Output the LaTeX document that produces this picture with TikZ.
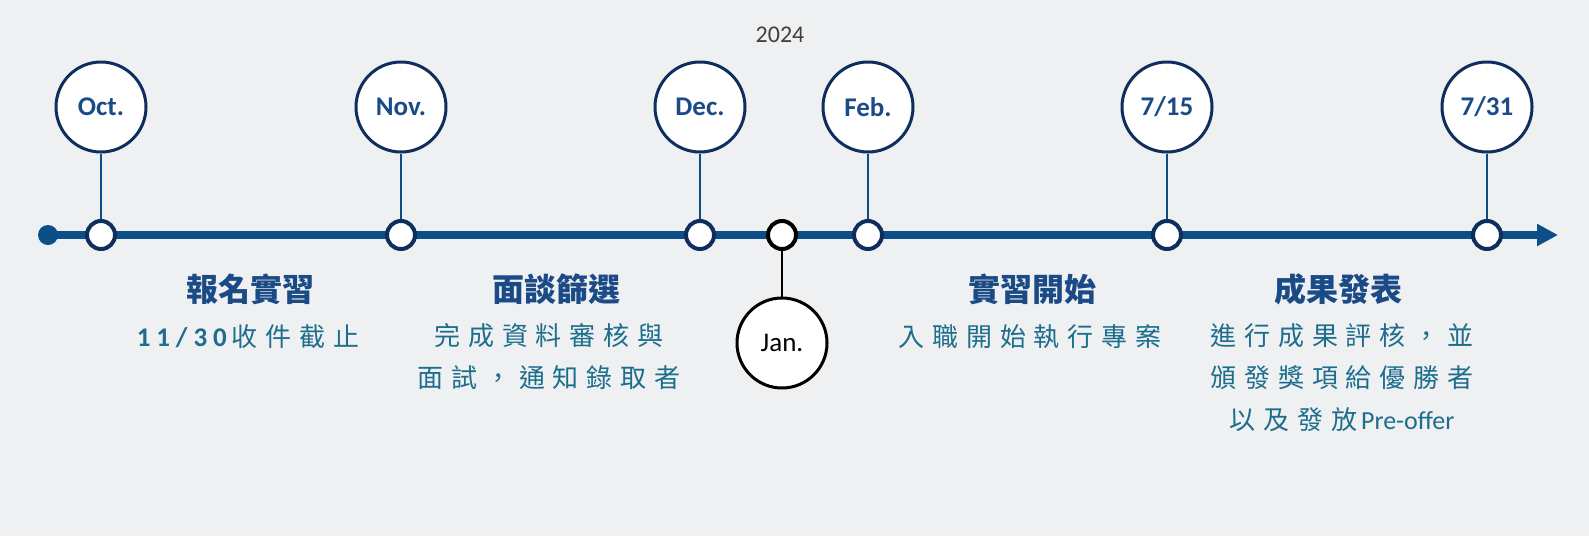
\documentclass[tikz,border=0pt]{standalone}
\usepackage{fontspec}
\usetikzlibrary{arrows.meta}
\setmainfont{Carlito}
\newfontfamily\cjk{Noto Sans CJK TC}
\newfontfamily\cjkwide{Noto Sans CJK TC}[LetterSpace=30]
\newfontfamily\latwide{Carlito}[LetterSpace=22]

\definecolor{bgc}{HTML}{EFF0F2}
\definecolor{axis}{HTML}{0C4E87}
\definecolor{ring}{HTML}{0E2F5E}
\definecolor{head}{HTML}{1A4B86}
\definecolor{body}{HTML}{1C6E8C}
\definecolor{yeartx}{HTML}{404040}

\tikzset{
  month/.style={circle, draw=ring, line width=3pt, fill=white, minimum size=90pt,
    inner sep=0pt, text=head, font=\fontsize{27}{30}\selectfont\bfseries},
  jan/.style={month, draw=black, text=black, font=\fontsize{27}{30}\selectfont},
  tick/.style={circle, draw=ring, line width=4pt, fill=white, minimum size=28pt, inner sep=0pt},
  jantick/.style={tick, draw=black},
  stem/.style={draw=axis, line width=1.3pt},
  title/.style={text=head, font=\fontsize{32}{36}\selectfont\cjk\bfseries},
  desc/.style={text=body, align=center, font=\fontsize{26}{42}\selectfont\cjkwide}
}

\begin{document}
\begin{tikzpicture}[x=1pt,y=-1pt]
  \fill[bgc] (0,0) rectangle (1589,536);
  \useasboundingbox (0,0) rectangle (1589,536);

  \node[text=yeartx, font=\fontsize{24}{28}\selectfont] (year) at (780,35) {2024};

  % axis
  \node[circle, fill=axis, minimum size=20pt, inner sep=0pt] (start) at (48,235) {};
  \coordinate (end) at (1558,235);
  \draw[axis, line width=8pt, -{Triangle[length=21pt,width=21pt]}] (start.center) -- (end);

  % ticks on the axis
  \node[tick] (toct) at (101,235) {};
  \node[tick] (tnov) at (401,235) {};
  \node[tick] (tdec) at (700,235) {};
  \node[jantick] (tjan) at (782,235) {};
  \node[tick] (tfeb) at (868,235) {};
  \node[tick] (tjul15) at (1167,235) {};
  \node[tick] (tjul31) at (1487,235) {};

  % month circles
  \node[month] (oct) at (101,107) {Oct.};
  \node[month] (nov) at (401,107) {Nov.};
  \node[month] (dec) at (700,107) {Dec.};
  \node[jan] (jan) at (782,343) {Jan.};
  \node[month] (feb) at (868,107) {Feb.};
  \node[month] (jul15) at (1167,107) {7/15};
  \node[month] (jul31) at (1487,107) {7/31};

  % stems
  \draw[stem] (oct) -- (toct);
  \draw[stem] (nov) -- (tnov);
  \draw[stem] (dec) -- (tdec);
  \draw[stem] (feb) -- (tfeb);
  \draw[stem] (jul15) -- (tjul15);
  \draw[stem] (jul31) -- (tjul31);
  \draw[black, line width=1.3pt] (jan) -- (tjan);

  % phase titles
  \node[title] (h1) at (250,289) {報名實習};
  \node[title] (h2) at (556,289) {面談篩選};
  \node[title] (h3) at (1032,289) {實習開始};
  \node[title] (h4) at (1338,289) {成果發表};

  % phase descriptions
  \node[desc] (d1) at (248,337) {{\latwide\bfseries\fontsize{27}{42}\selectfont 11/30}\hspace{5pt}收件截止};
  \node[desc, anchor=north] (d2) at (549,320) {完成資料審核與\\面試，通知錄取者};
  \node[desc] (d3) at (1030,337) {入職開始執行專案};
  \node[desc, anchor=north] (d4) at (1342,320) {進行成果評核，並\\頒發獎項給優勝者\\以及發放\hspace{4pt}{\fontspec{Carlito}\fontsize{26}{42}\selectfont Pre-offer}};
\end{tikzpicture}
\end{document}
